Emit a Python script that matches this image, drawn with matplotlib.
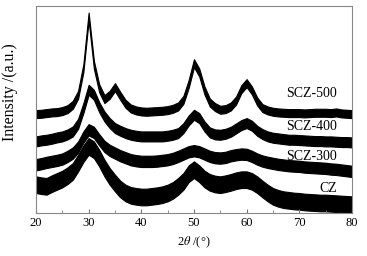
import numpy as np
import matplotlib
matplotlib.use('Agg')
import matplotlib.pyplot as plt

plt.rcParams['font.family'] = 'Liberation Serif'
plt.rcParams['mathtext.fontset'] = 'stix'

# 2theta grid (deg) and smoothed intensities (a.u.)
two_theta = list(range(20, 81))

scz500 = [297, 298, 300, 302, 303, 306, 312, 325, 355, 435, 590, 445, 375, 342, 355, 378,
          352, 328, 314, 308, 305, 304, 305, 306, 307, 309, 313, 320, 340, 388, 450, 422,
          368, 332, 318, 310, 312, 320, 338, 372, 390, 368, 335, 315, 308, 304, 302, 301,
          300, 300, 300, 299, 300, 301, 301, 301, 300, 302, 299, 298, 297]
scz400 = [215, 218, 220, 223, 227, 230, 236, 245, 268, 315, 370, 355, 318, 290, 270, 255,
          247, 240, 235, 232, 230, 230, 230, 230, 230, 232, 235, 240, 255, 278, 295, 285,
          260, 242, 236, 235, 238, 244, 254, 264, 270, 262, 247, 237, 230, 226, 224, 222,
          220, 220, 219, 218, 217, 216, 216, 215, 215, 214, 213, 213, 212]
scz300 = [145, 148, 152, 155, 158, 162, 170, 180, 198, 228, 250, 242, 220, 200, 188, 180,
          172, 166, 160, 157, 155, 155, 155, 156, 158, 160, 164, 170, 177, 184, 187, 184,
          177, 170, 166, 165, 167, 172, 175, 177, 176, 170, 162, 156, 152, 149, 146, 144,
          142, 141, 140, 138, 137, 136, 135, 134, 132, 131, 129, 127, 125]
cz = [85, 82, 80, 88, 95, 102, 112, 125, 150, 178, 200, 190, 165, 135, 110, 90,
      72, 60, 53, 50, 48, 48, 50, 52, 55, 60, 68, 80, 95, 118, 130, 118,
      102, 92, 87, 85, 88, 92, 97, 100, 100, 95, 85, 72, 60, 50, 44, 40,
      38, 36, 35, 33, 32, 31, 30, 30, 29, 28, 27, 26, 25]

names = ['SCZ-500', 'SCZ-400', 'SCZ-300', 'CZ']
series = [scz500, scz400, scz300, cz]
noise = [12, 15, 17, 25]          # half width of the noisy band
label_y = [358, 260, 170, 73]

fig = plt.figure(figsize=(3.67, 2.56), dpi=100)
ax = fig.add_axes([0.098, 0.168, 0.861, 0.809])

x = np.array(two_theta)
for name, y, w, ly in zip(names, series, noise, label_y):
    y = np.array(y)
    ax.fill_between(x, y - w, y + w, color='black', lw=0.8, edgecolor='black')
    ax.text(77.2, ly, name, ha='right', va='center', fontsize=10)

ax.set_xlim(20, 80)
ax.set_ylim(0, 622)
ax.set_yticks([])
ax.set_xticks(range(20, 81, 10))
ax.set_xticks(range(25, 80, 10), minor=True)
ax.tick_params(axis='x', which='both', direction='in', colors='#777777',
               labelcolor='black', labelsize=9, pad=3)
ax.tick_params(axis='x', which='major', length=3)
ax.tick_params(axis='x', which='minor', length=2)
for s in ax.spines.values():
    s.set_color('#888888')
    s.set_linewidth(0.8)

ax.set_xlabel(r'2$\theta$ /(°)', fontsize=9, labelpad=4)
ax.set_ylabel('Intensity /(a.u.)', fontsize=11.5)
ax.yaxis.set_label_coords(-0.058, 0.585)

fig.savefig('out.png', dpi=100)
